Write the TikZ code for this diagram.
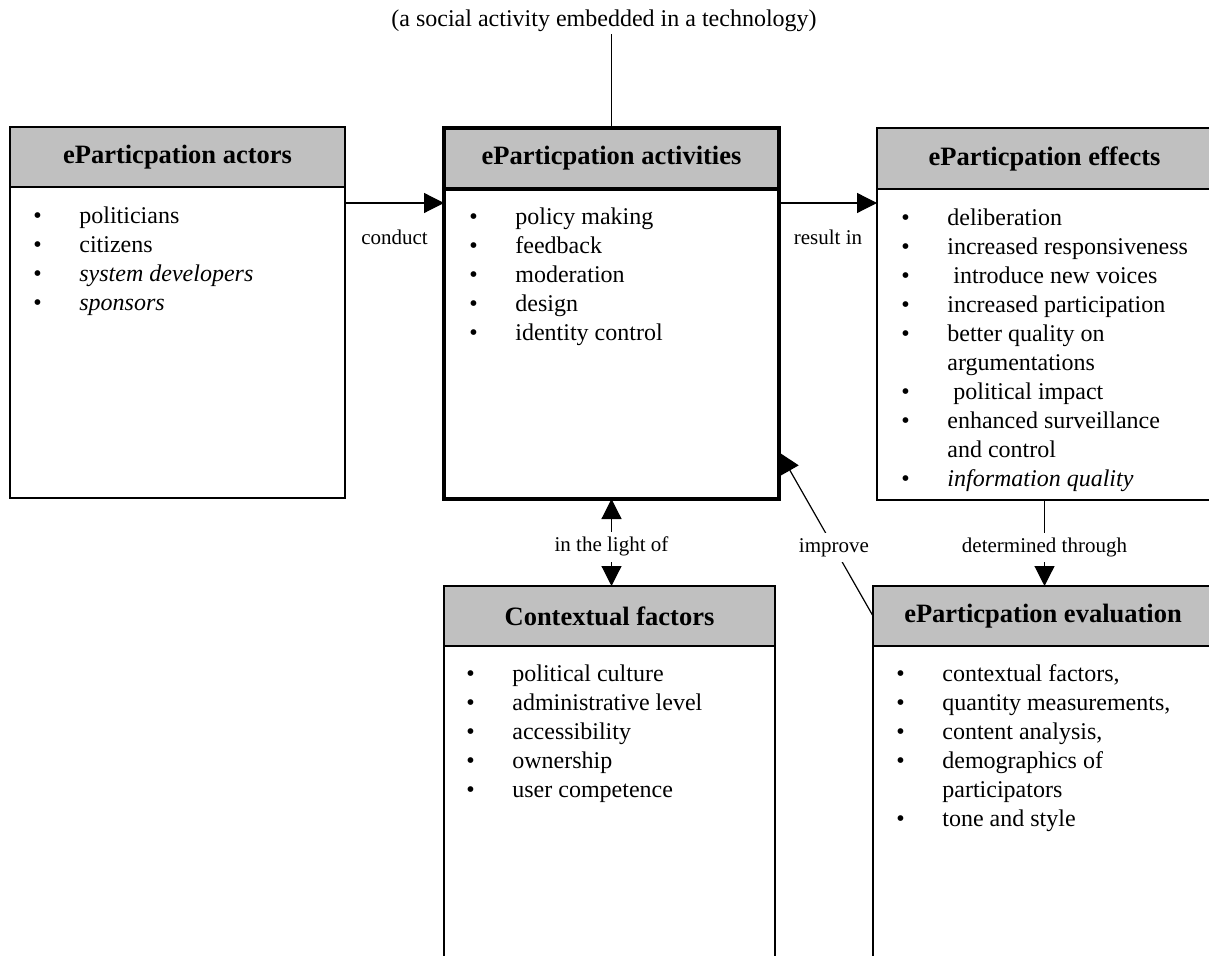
\documentclass[tikz,border=0pt]{standalone}
\usepackage{fontspec}
\setmainfont{Liberation Serif}
\usetikzlibrary{arrows.meta, calc}

\definecolor{headgray}{HTML}{C0C0C0}

\newcommand{\itemlist}[1]{\begin{tabular}{@{}p{23pt}@{}l@{}}#1\end{tabular}}

\begin{document}
\begin{tikzpicture}[
        x=0.5pt, y=-0.5pt,
        >={Triangle[length=10pt, width=10pt]},
        box/.style={draw, line width=0.8pt, anchor=north west, inner sep=0pt, outer sep=0pt},
        head/.style={box, fill=headgray, font=\fontsize{13.25}{16}\selectfont\bfseries},
        items/.style={anchor=north west, inner sep=0pt, font=\fontsize{12}{14.5}\selectfont},
        lbl/.style={fill=white, inner sep=2.5pt, font=\fontsize{10.5}{12}\selectfont},
        conn/.style={line width=0.6pt},
    ]
    \useasboundingbox (0,0) rectangle (1209,956);
    \clip (0,0) rectangle (1209,956);

    % upper row
    \node[head, minimum width=167.5pt, minimum height=30pt] (actorshead) at (10,127) {eParticpation actors};
    \node[box, minimum width=167.5pt, minimum height=155.5pt] (actors) at (actorshead.south west) {};

    \node[head, line width=2pt, minimum width=167.5pt, minimum height=30.5pt] (activhead) at (444,128) {eParticpation activities};
    \node[box, line width=2pt, minimum width=167.5pt, minimum height=155pt] (activities) at (activhead.south west) {};

    \node[head, minimum width=167.5pt, minimum height=30.5pt] (effhead) at (877,128) {eParticpation effects};
    \node[box, minimum width=167.5pt, minimum height=155.5pt] (effects) at (effhead.south west) {};

    % lower row
    \node[head, minimum width=165.5pt, minimum height=30pt] (ctxhead) at (444,586) {Contextual factors};
    \node[box, minimum width=165.5pt, minimum height=170pt] (context) at (ctxhead.south west) {};

    \node[head, minimum width=170pt, minimum height=30pt] (evalhead) at (873,586) {eParticpation evaluation};
    \node[box, minimum width=170pt, minimum height=170pt] (evaluation) at (evalhead.south west) {};

    % lists
    \node[items] (actorslist) at ($(actors.north west)+(23,16)$) {\itemlist{
        \textbullet & politicians\\
        \textbullet & citizens\\
        \textbullet & \textit{system developers}\\
        \textbullet & \textit{sponsors}}};
    \node[items] (activlist) at ($(activities.north west)+(25,15)$) {\itemlist{
        \textbullet & policy making\\
        \textbullet & feedback\\
        \textbullet & moderation\\
        \textbullet & design\\
        \textbullet & identity control}};
    \node[items] (efflist) at ($(effects.north west)+(24,16)$) {\itemlist{
        \textbullet & deliberation\\
        \textbullet & increased responsiveness\\
        \textbullet & \hspace{3pt}introduce new voices\\
        \textbullet & increased participation\\
        \textbullet & better quality on\\
                    & argumentations\\
        \textbullet & \hspace{3pt}political impact\\
        \textbullet & enhanced surveillance\\
                    & and control\\
        \textbullet & \textit{information quality}}};
    \node[items] (ctxlist) at ($(context.north west)+(22,15)$) {\itemlist{
        \textbullet & political culture\\
        \textbullet & administrative level\\
        \textbullet & accessibility\\
        \textbullet & ownership\\
        \textbullet & user competence}};
    \node[items] (evallist) at ($(evaluation.north west)+(23,15)$) {\itemlist{
        \textbullet & contextual factors,\\
        \textbullet & quantity measurements,\\
        \textbullet & content analysis,\\
        \textbullet & demographics of\\
                    & participators\\
        \textbullet & tone and style}};

    % caption on top
    \node[inner sep=1pt, font=\fontsize{12}{14}\selectfont] (caption) at (604,21) {(a social activity embedded in a technology)};
    \draw[conn] (activhead.north) -- (activhead.north |- caption.south);

    % connectors
    \coordinate (conductfrom) at ($(actors.north east)+(0,16)$);
    \draw[conn, ->] (conductfrom) -- (conductfrom -| activities.west)
        node[lbl, midway, yshift=-17pt] {conduct};

    \coordinate (resultfrom) at ($(activities.north east)+(0,14)$);
    \draw[conn, ->] (resultfrom) -- (resultfrom -| effects.west)
        node[lbl, midway, yshift=-17pt] {result in};

    \draw[conn, <->] (activities.south) -- node[lbl, pos=0.55] {in the light of} (activities.south |- ctxhead.north);
    \draw[conn, ->] (effects.south) -- node[lbl, pos=0.55] {determined through} (effects.south |- evalhead.north);

    \coordinate (improveto) at ($(activities.south east)+(1,-46)$);
    \draw[conn, ->] (evalhead.west) -- node[lbl, pos=0.42] {improve} (improveto);
\end{tikzpicture}
\end{document}
